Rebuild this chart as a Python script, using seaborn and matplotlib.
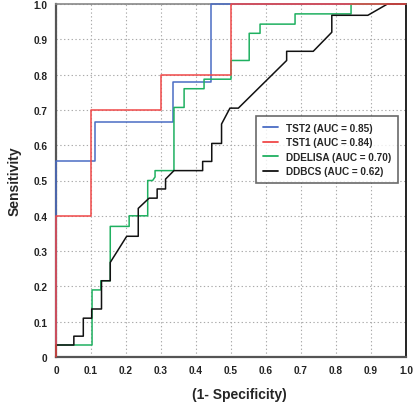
import numpy as np
import pandas as pd
import matplotlib
matplotlib.use('Agg')
import matplotlib.pyplot as plt
import seaborn as sns

# ROC curve vertices
tst2_fpr = [0, 0, 0.111, 0.111, 0.333, 0.333, 0.444, 0.444, 1.0]
tst2_tpr = [0, 0.556, 0.556, 0.667, 0.667, 0.778, 0.778, 1.0, 1.0]

tst1_fpr = [0, 0, 0.1, 0.1, 0.3, 0.3, 0.5, 0.5, 1.0]
tst1_tpr = [0, 0.4, 0.4, 0.7, 0.7, 0.8, 0.8, 1.0, 1.0]

ddelisa_fpr = [0, 0, 0.103, 0.103, 0.128, 0.128, 0.155, 0.155, 0.209, 0.209, 0.262, 0.262,
               0.276, 0.283, 0.283, 0.337, 0.337, 0.366, 0.366, 0.423, 0.423, 0.5, 0.5,
               0.552, 0.552, 0.583, 0.583, 0.683, 0.683, 0.843, 0.843, 1.0]
ddelisa_tpr = [0, 0.034, 0.034, 0.19, 0.19, 0.216, 0.216, 0.37, 0.37, 0.40, 0.40, 0.50,
               0.50, 0.51, 0.528, 0.528, 0.707, 0.707, 0.76, 0.76, 0.787, 0.787, 0.84,
               0.84, 0.917, 0.917, 0.943, 0.943, 0.972, 0.972, 1.0, 1.0]

ddbcs_fpr = [0, 0, 0.051, 0.051, 0.078, 0.078, 0.102, 0.102, 0.13, 0.13, 0.155, 0.155,
             0.202, 0.235, 0.235, 0.266, 0.289, 0.289, 0.313, 0.313, 0.337, 0.419, 0.419,
             0.445, 0.445, 0.473, 0.473, 0.497, 0.521, 0.659, 0.659, 0.735, 0.788, 0.788,
             0.891, 0.947, 1.0]
ddbcs_tpr = [0, 0.034, 0.034, 0.059, 0.059, 0.11, 0.11, 0.136, 0.136, 0.216, 0.216, 0.268,
             0.342, 0.342, 0.421, 0.45, 0.45, 0.476, 0.476, 0.504, 0.528, 0.528, 0.554,
             0.554, 0.605, 0.605, 0.66, 0.705, 0.705, 0.84, 0.866, 0.866, 0.92, 0.968,
             0.968, 1.0, 1.0]

labels = ['TST2 (AUC = 0.85)', 'TST1 (AUC = 0.84)', 'DDELISA (AUC = 0.70)', 'DDBCS (AUC = 0.62)']
colors = ['#4a6cc4', '#f04848', '#1fb060', '#111111']
ticks = [0, 0.1, 0.2, 0.3, 0.4, 0.5, 0.6, 0.7, 0.8, 0.9, 1.0]
tick_labels = ['0', '0.1', '0.2', '0.3', '0.4', '0.5', '0.6', '0.7', '0.8', '0.9', '1.0']

sns.set_style('white')
plt.rcParams['font.family'] = ['Liberation Sans', 'DejaVu Sans']

fig = plt.figure(figsize=(4.15, 4.06), dpi=100)
ax = fig.add_axes([56 / 415, 48 / 406, 350 / 415, 353 / 406])

curves = [(tst2_fpr, tst2_tpr), (tst1_fpr, tst1_tpr), (ddelisa_fpr, ddelisa_tpr), (ddbcs_fpr, ddbcs_tpr)]
zorders = [3, 6, 4, 5]
for (fx, ty), lab, col, z in zip(curves, labels, colors, zorders):
    df = pd.DataFrame({'fpr': fx, 'tpr': ty})
    sns.lineplot(data=df, x='fpr', y='tpr', sort=False, estimator=None, color=col,
                 linewidth=1.1, label=lab, ax=ax, zorder=z, clip_on=False)

ax.set_xlim(0, 1)
ax.set_ylim(0, 1)
ax.set_xticks(ticks)
ax.set_yticks(ticks)
ax.set_xticklabels(tick_labels, fontsize=7.3, fontweight='bold', color='#222222')
ax.set_yticklabels(tick_labels, fontsize=7.3, fontweight='bold', color='#222222')
ax.tick_params(length=0, pad=6)
ax.grid(True, linestyle=(0, (1.2, 2.2)), color='#aaaaaa', linewidth=0.8)

for side in ['left', 'bottom']:
    ax.spines[side].set_color('#555555')
    ax.spines[side].set_linewidth(1.6)
ax.spines['top'].set_color('#888888')
ax.spines['top'].set_linewidth(1.2)
ax.spines['right'].set_color('#111111')
ax.spines['right'].set_linewidth(1.3)

ax.set_xlabel('(1- Specificity)', fontsize=10, fontweight='bold')
ax.set_ylabel('Sensitivity', fontsize=10, fontweight='bold')
ax.xaxis.set_label_coords(0.525, -0.085)
ax.yaxis.set_label_coords(-0.098, 0.5)

leg = ax.legend(loc='upper right', bbox_to_anchor=(0.977, 0.684),
                prop={'weight': 'bold', 'size': 7.2}, frameon=True, fancybox=False,
                handlelength=1.5, labelspacing=0.45, borderpad=0.7, borderaxespad=0)
leg.get_frame().set_edgecolor('#444444')
leg.get_frame().set_linewidth(1.2)
for h in leg.get_lines():
    h.set_linewidth(1.3)

fig.savefig('out.png', dpi=100)
